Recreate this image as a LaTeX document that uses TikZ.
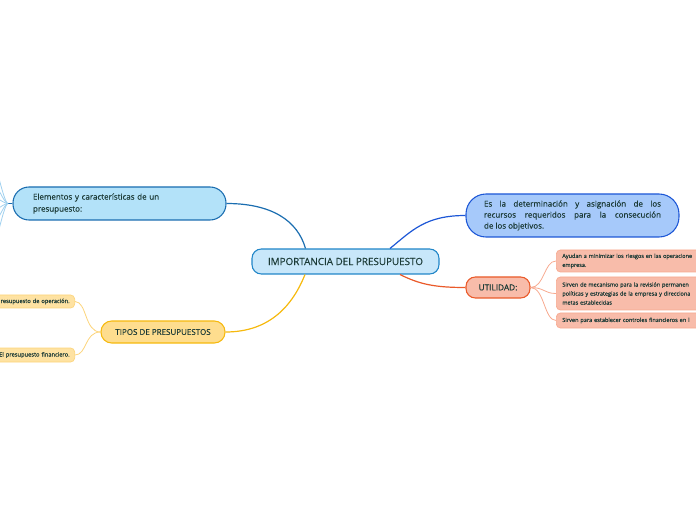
\documentclass[tikz,border=0pt]{standalone}
\usepackage{fontspec}
\setmainfont{Open Sans}[FakeBold=0.35]
\usetikzlibrary{calc}
\definecolor{txt}{HTML}{1B3A36}
\definecolor{cfill}{HTML}{C8E7FA}
\definecolor{cline}{HTML}{2186C8}
\definecolor{efill}{HTML}{B3E2F9}
\definecolor{eline}{HTML}{1A6DB0}
\definecolor{efan}{HTML}{9FD0EE}
\definecolor{dfill}{HTML}{A6C9FA}
\definecolor{dline}{HTML}{1D57D6}
\definecolor{ufill}{HTML}{F8BCAA}
\definecolor{uline}{HTML}{EA5A2A}
\definecolor{usub}{HTML}{F7A98F}
\definecolor{tfill}{HTML}{FEDD8E}
\definecolor{tline}{HTML}{F6B90E}
\definecolor{tsubfill}{HTML}{FEE2A2}
\definecolor{tsub}{HTML}{FCD47A}
\tikzset{
  mainbox/.style={draw, line width=0.8pt, inner sep=0pt, align=center, text=txt},
  subbox/.style={draw, line width=0.5pt, inner ysep=0pt, rounded corners=3pt, text=txt, font=\fontsize{4.15}{6.75}\selectfont},
  conn/.style={line width=0.9pt},
  subconn/.style={line width=0.6pt}
}
\begin{document}
\begin{tikzpicture}[x=0.75pt,y=-0.75pt]
\useasboundingbox (0,0) rectangle (696,520);
\clip (0,0) rectangle (696,520);
% central
\node[mainbox, fill=cfill, draw=cline, minimum width=140.25pt, minimum height=18.75pt, rounded corners=7pt, font=\fontsize{7.4}{9}\selectfont] (c) at (345.5,261.5) {IMPORTANCIA DEL PRESUPUESTO};
% elementos
\node[mainbox, fill=efill, draw=eline, minimum width=159.75pt, minimum height=24.75pt, rounded corners=12pt, text width=129.75pt, inner xsep=15pt, align=left, font=\fontsize{6}{9}\selectfont] (e) at (119.5,203.5) {Elementos y características de un\\presupuesto:};
% definicion
\node[mainbox, fill=dfill, draw=dline, minimum width=159.75pt, minimum height=32.25pt, rounded corners=15pt, text width=132.75pt, inner xsep=13.5pt, align=justify, font=\fontsize{6}{8.25}\selectfont] (d) at (572.5,215.5) {Es la determinación y asignación de los\linebreak recursos requeridos para la consecución\linebreak de los objetivos.};
% utilidad
\node[mainbox, fill=ufill, draw=uline, minimum width=48pt, minimum height=15.75pt, rounded corners=7pt, font=\fontsize{6.2}{8}\selectfont] (u) at (498,287.5) {UTILIDAD:};
\node[subbox, fill=ufill, draw=usub, anchor=west, minimum height=16.5pt, text width=114pt, inner xsep=4.5pt, align=left] (u1) at (556,261) {Ayudan a minimizar los riesgos en las operacione\\empresa.};
\node[subbox, fill=ufill, draw=usub, anchor=west, minimum height=24.75pt, text width=114pt, inner xsep=4.5pt, align=left] (u2) at (556,293.5) {Sirven de mecanismo para la revisión permanen\\políticas y estrategias de la empresa y direcciona\\metas establecidas};
\node[subbox, fill=ufill, draw=usub, anchor=west, minimum height=11.25pt, text width=114pt, inner xsep=4.5pt, align=left, font=\fontsize{4.2}{6.75}\selectfont] (u3) at (556,320.5) {Sirven para establecer controles financieros en l};
% tipos
\node[mainbox, fill=tfill, draw=tline, minimum width=93pt, minimum height=16.5pt, rounded corners=8pt, font=\fontsize{6}{8}\selectfont] (t) at (163,332) {TIPOS DE PRESUPUESTOS};
\node[subbox, fill=tsubfill, draw=tsub, anchor=east, minimum height=9.75pt, text width=70pt, inner xsep=3.75pt, align=right, font=\fontsize{4.3}{6.75}\selectfont] (t1) at (75,301.5) {resupuesto de operación.};
\node[subbox, fill=tsubfill, draw=tsub, anchor=east, minimum height=10.5pt, text width=70pt, inner xsep=3.75pt, align=right, font=\fontsize{4.3}{6.75}\selectfont] (t2) at (75,355) {El presupuesto financiero.};
% connectors
\draw[conn, draw=eline] ($(c.north)+(-40,0)$) .. controls +(-8,-28) and +(45,0) .. (e.east);
\draw[conn, draw=dline] ($(c.north)+(44.5,0)$) .. controls +(22,-18) and +(-40,0) .. (d.west);
\draw[conn, draw=uline] ($(c.south)+(54.5,0)$) .. controls +(20,10) and +(-30,0) .. (u.west);
\draw[conn, draw=tline] ($(c.south)+(-40.5,0)$) .. controls +(-12,30) and +(45,0) .. (t.east);
\foreach \k in {u1,u2,u3}{
  \draw[subconn, draw=usub] (u.east) .. controls +(14,0) and +(-12,0) .. (\k.west);
}
\foreach \k in {t1,t2}{
  \draw[subconn, draw=tsub] (t.west) .. controls +(-16,0) and +(12,0) .. (\k.east);
}
% left fan
\coordinate (fs) at (8,203.5);
\draw[conn, draw=eline] (e.west) -- (fs);
\coordinate (f1) at (-25,120);
\coordinate (f2) at (-25,160);
\coordinate (f3) at (-25,190);
\coordinate (f4) at (-25,218);
\coordinate (f5) at (-25,248);
\coordinate (f6) at (-25,290);
\foreach \k in {f1,f2,f3,f4,f5,f6}{
  \draw[subconn, draw=efan] (fs) .. controls +(-6,0) and +(14,0) .. (\k);
}
\end{tikzpicture}
\end{document}
